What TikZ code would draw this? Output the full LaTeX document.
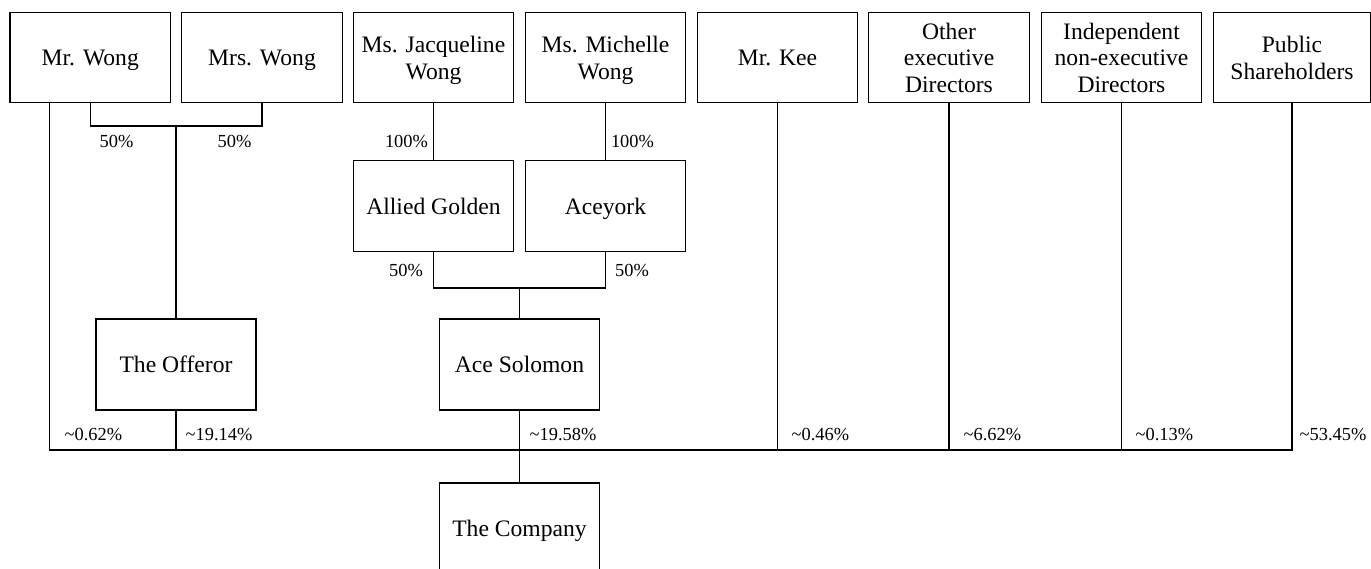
\documentclass[tikz,border=0pt]{standalone}
\usepackage{fontspec}
\setmainfont{Liberation Serif}
\usetikzlibrary{calc}
\newcommand{\mytopstrut}{\rule[-3.99pt]{0pt}{16.3pt}}
\begin{document}
\begin{tikzpicture}[x=0.5pt,y=-0.5pt, line width=0.65pt,
  box/.style={draw, minimum width=80.25pt, minimum height=45pt, inner sep=0pt, align=center,
    font=\fontsize{11.8}{13.3}\selectfont},
  midbox/.style={box, minimum height=45.5pt},
  tallbox/.style={box, minimum width=80pt, minimum height=45.5pt},
  pct/.style={inner sep=0pt, font=\fontsize{9.2}{10}\selectfont}]
\useasboundingbox (0,0) rectangle (1371,568);
% top row
\node[box] (mrw)  at (90.25,57.5) {\mytopstrut Mr. Wong};
\node[box] (mrsw) at (262,57.5) {\mytopstrut Mrs. Wong};
\node[box] (jac)  at (433.5,57.5) {\mytopstrut Ms. Jacqueline\\\strut Wong};
\node[box] (mich) at (605.5,57.5) {\mytopstrut Ms. Michelle\\\strut Wong};
\node[box] (kee)  at (777.5,57.5) {\mytopstrut Mr. Kee};
\node[box] (oth)  at (949,57.5) {\mytopstrut Other\\\strut executive\\\strut Directors};
\node[box] (ind)  at (1121.5,57.5) {\mytopstrut Independent\\\strut non-executive\\\strut Directors};
\node[box, minimum width=78.75pt] (pub) at (1292,57.5) {\mytopstrut Public\\\strut Shareholders};
% middle
\node[midbox] (allied) at (433.5,206) {\mytopstrut Allied Golden};
\node[midbox] (acey)   at (605.5,206) {\mytopstrut Aceyork};
\node[tallbox] (off)  at (176,364.5) {\mytopstrut The Offeror};
\node[tallbox] (ace)  at (519.5,364.5) {\mytopstrut Ace Solomon};
\node[tallbox] (comp) at (519.5,528.5) {\mytopstrut The Company};
% helper coordinates
\coordinate (b1) at (176,126);
\coordinate (b2) at (519.5,288);
\coordinate (busR) at (1292,450);
% connectors
\draw (mrw.south) |- (b1) -| (mrsw.south);
\draw (b1) -- (off.north);
\draw (jac.south) -- (allied.north);
\draw (mich.south) -- (acey.north);
\draw (allied.south) |- (b2) -| (acey.south);
\draw (b2) -- (ace.north);
\draw ([xshift=20pt]mrw.south west) |- (busR) -- (pub.south);
\draw (off.south) -- (off.south |- busR);
\draw (ace.south) -- (comp.north);
\draw (kee.south) -- (kee.south |- busR);
\draw (oth.south) -- (oth.south |- busR);
\draw (ind.south) -- (ind.south |- busR);
% labels
\node[pct] (l1) at (116.5,141) {50\%};
\node[pct] (l2) at (234.5,141) {50\%};
\node[pct] (l3) at (406.5,141) {100\%};
\node[pct] (l4) at (632.5,141) {100\%};
\node[pct] (l5) at (406,270) {50\%};
\node[pct] (l6) at (632,270) {50\%};
\node[pct, anchor=west] (p1) at (64,435) {\textasciitilde0.62\%};
\node[pct, anchor=west] (p2) at (185,435) {\textasciitilde19.14\%};
\node[pct, anchor=west] (p3) at (529,435) {\textasciitilde19.58\%};
\node[pct, anchor=west] (p4) at (791,435) {\textasciitilde0.46\%};
\node[pct, anchor=west] (p5) at (963,435) {\textasciitilde6.62\%};
\node[pct, anchor=west] (p6) at (1135,435) {\textasciitilde0.13\%};
\node[pct, anchor=west] (p7) at (1299,435) {\textasciitilde53.45\%};
\end{tikzpicture}
\end{document}
